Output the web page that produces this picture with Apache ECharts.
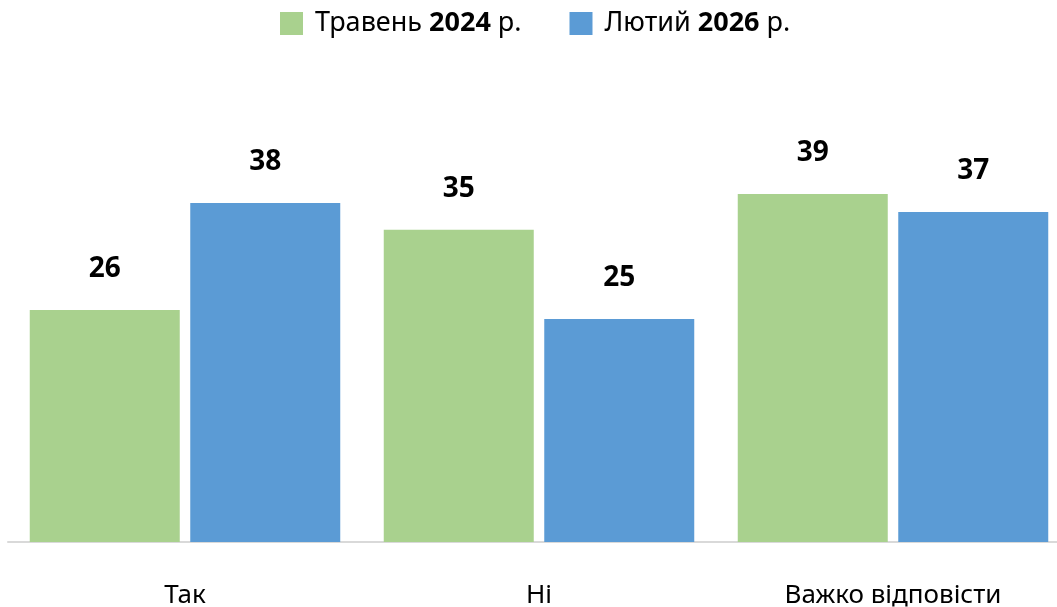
<!DOCTYPE html>
<html><head><meta charset="utf-8">
<script src="https://cdn.jsdelivr.net/npm/echarts@6/dist/echarts.min.js"></script>
<style>html,body{margin:0;padding:0;background:#fff}#c{width:1057px;height:607px}</style>
</head><body><div id="c"></div>
<script>
const categories = ['Так', 'Ні', 'Важко відповісти'];
const seriesNames = ['Травень 2024 р.', 'Лютий 2026 р.'];
const may2024 = [26, 35, 39];
const feb2026 = [38, 25, 37];
const colors = ['#A9D18E', '#5B9BD5'];
const FONT = 'Noto Sans';

const chart = echarts.init(document.getElementById('c'));
const lbl = {show: true, position: 'top', distance: 27, fontFamily: FONT, fontSize: 28, fontWeight: 'bold', color: '#000'};
chart.setOption({
  animation: false,
  legend: {
    top: 5, left: 275, itemWidth: 23, itemHeight: 23, itemGap: 48,
    icon: 'rect',
    formatter: function (n) {
      const m = n.match(/^(\S+) (\d+)( р\.)$/);
      return '{f|' + m[1] + ' }{b|' + m[2] + '}{n|' + m[3] + '}';
    },
    textStyle: {
      fontFamily: FONT, fontSize: 27, color: '#000',
      rich: {
        f: {fontFamily: FONT, fontSize: 27, color: '#000', padding: [0, 0, 0, 7]},
        n: {fontFamily: FONT, fontSize: 27, color: '#000'},
        b: {fontFamily: FONT, fontSize: 27, color: '#000', fontWeight: 'bold'}
      }
    },
    data: seriesNames
  },
  grid: {left: 8, width: 1062, top: 96, bottom: 65, containLabel: false, outerBoundsMode: 'none'},
  xAxis: {
    type: 'category', data: categories,
    axisLine: {lineStyle: {color: '#d9d9d9', width: 2}},
    axisTick: {show: false},
    axisLabel: {fontFamily: FONT, fontSize: 26, color: '#000', margin: 41}
  },
  yAxis: {type: 'value', min: 0, max: 50, show: false, splitLine: {show: false}},
  series: [
    {name: seriesNames[0], type: 'bar', data: may2024, barWidth: 150, barGap: '7%', itemStyle: {color: colors[0]}, label: lbl},
    {name: seriesNames[1], type: 'bar', data: feb2026, barWidth: 150, itemStyle: {color: colors[1]}, label: lbl}
  ]
});
</script></body></html>
